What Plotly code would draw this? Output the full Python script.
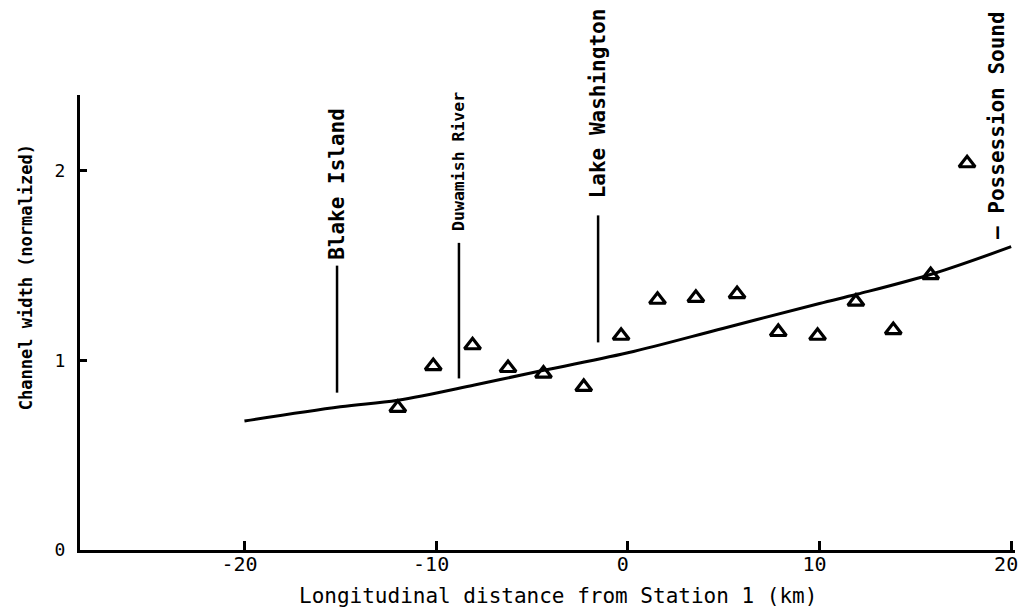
import plotly.graph_objects as go

# Observed stations
station_x = [-12.0, -10.15, -8.1, -6.25, -4.4, -2.3, -0.35, 1.55, 3.55, 5.7, 7.85, 9.9, 11.9, 13.85, 15.8, 17.7]
width_y = [0.75, 0.97, 1.08, 0.96, 0.93, 0.86, 1.13, 1.32, 1.33, 1.35, 1.15, 1.13, 1.31, 1.16, 1.45, 2.04]

# Fitted curve
fit_x = [-20, -15, -12, -8, -5, 0, 5, 10, 12, 16, 20]
fit_y = [0.68, 0.755, 0.79, 0.87, 0.935, 1.04, 1.17, 1.30, 1.35, 1.46, 1.60]

# Landmarks
landmark_names = ["Blake Island", "Duwamish River", "Lake Washington", "— Possession Sound"]
landmark_x = [-15.17, -8.81, -1.55, 19.26]
line_bottom = [0.83, 0.905, 1.095, None]
line_top = [1.50, 1.62, 1.765, None]
label_bottom = [1.52, 1.675, 1.845, 1.63]
label_size = [21, 16.5, 21, 21]

x_ticks = [-20, -10, 0, 10, 20]
y_ticks = [0, 1, 2]

FONT = "DejaVu Sans Mono"

fig = go.Figure()

fig.add_trace(go.Scatter(x=fit_x, y=fit_y, mode="lines",
                         line=dict(color="black", width=3, shape="spline"),
                         hoverinfo="skip", showlegend=False))

for lx, lb, lt in zip(landmark_x, line_bottom, line_top):
    if lb is None:
        continue
    fig.add_trace(go.Scatter(x=[lx, lx], y=[lb, lt], mode="lines",
                             line=dict(color="black", width=2.5),
                             hoverinfo="skip", showlegend=False))

fig.add_trace(go.Scatter(x=station_x, y=width_y, mode="markers",
                         marker=dict(symbol="triangle-up-open", size=14, color="black",
                                     line=dict(color="black", width=3.2)),
                         showlegend=False, cliponaxis=False))

for name, lx, lb, sz in zip(landmark_names, landmark_x, label_bottom, label_size):
    fig.add_annotation(x=lx, y=lb, xref="x", yref="y", text=name, textangle=-90,
                       showarrow=False, xanchor="center", yanchor="bottom",
                       font=dict(family=FONT, size=sz, color="black", weight="bold"))

fig.add_annotation(x=0.511, y=-0.1, xref="paper", yref="paper",
                   text="Longitudinal distance from Station 1 (km)", showarrow=False,
                   xanchor="center", yanchor="middle",
                   font=dict(family=FONT, size=21, color="black"))
fig.add_annotation(x=-0.057, y=0.599, xref="paper", yref="paper",
                   text="Channel width (normalized)", showarrow=False, textangle=-90,
                   xanchor="center", yanchor="middle",
                   font=dict(family=FONT, size=17, color="black", weight="bold"))

fig.update_xaxes(range=[-28.58, 20.2], tickvals=x_ticks, ticktext=[str(v) for v in x_ticks],
                 ticks="inside", ticklen=9, tickwidth=2.5, tickcolor="black",
                 showline=True, linecolor="black", linewidth=3,
                 showgrid=False, zeroline=False, ticklabeloverflow="allow",
                 ticklabelstandoff=-6, ticklabelshift=-5, automargin=False,
                 tickfont=dict(family=FONT, size=20, color="black"))
fig.update_yaxes(range=[0, 2.40], tickvals=y_ticks, ticktext=[str(v) for v in y_ticks],
                 ticks="inside", ticklen=7, tickwidth=2.5, tickcolor="black",
                 showline=True, linecolor="black", linewidth=3,
                 showgrid=False, zeroline=False, ticklabelstandoff=8, automargin=False,
                 tickfont=dict(family=FONT, size=18, color="black"))

fig.update_layout(width=1019, height=612, margin=dict(l=80, r=4, t=95, b=62),
                  plot_bgcolor="white", paper_bgcolor="white")

fig.write_html("out.html")
